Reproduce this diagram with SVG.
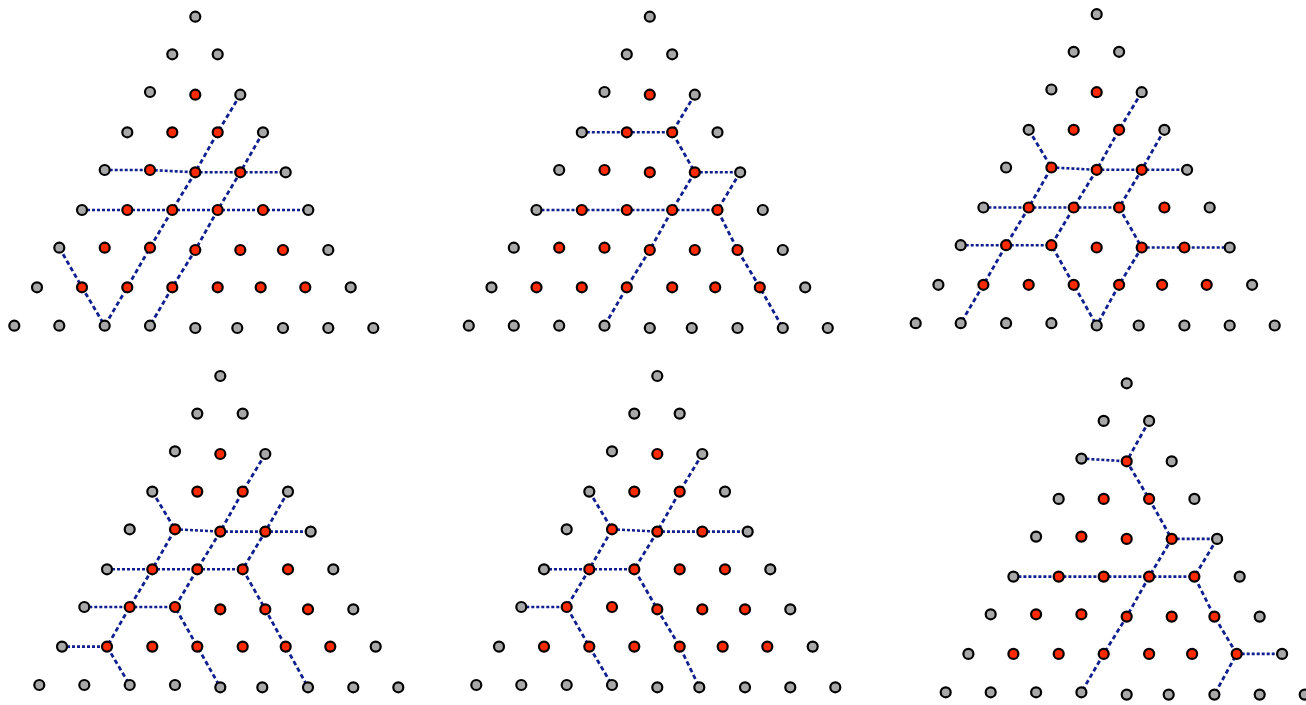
<svg xmlns="http://www.w3.org/2000/svg" width="1306" height="705" viewBox="0 0 1306 705">
<style>
.h{fill:none;stroke:#0f1f8f;stroke-width:2.6;stroke-dasharray:3 2}
.d{fill:none;stroke:#0f1f8f;stroke-width:2.8;stroke-dasharray:4.5 3}
.g{fill:#a8a8a8;stroke:#000;stroke-width:2.2}
.r{fill:#ff2a00;stroke:#000;stroke-width:2.2}
</style>
<rect width="1306" height="705" fill="#fff"/>
<g id="connectors">
<g id="c1">
<polyline class="h" points="104.7,170 150,170 195.3,172.3 240.3,172.3 285.7,172.3"/>
<polyline class="h" points="82,210 308.3,210"/>
<polyline class="d" points="240.3,94.7 217.7,132.3 195.3,172.3 172.3,210 150,247.7 127.3,287.3 104.7,325.7"/>
<polyline class="d" points="263,132.3 240.3,172.3 217.7,210 195.3,250 172.3,287.3 150,325.7"/>
<polyline class="d" points="59.3,247.7 82,287.3 104.7,325.7"/>
</g>
<g id="c2" transform="translate(454.5,0)">
<polyline class="h" points="127.3,132.3 217.7,132.3"/>
<polyline class="d" points="240.3,94.7 217.7,132.3 240.3,172.3 217.7,210 195.3,250 172.3,287.3 150,325.7"/>
<polyline class="h" points="240.3,172.3 285.7,172.3"/>
<polyline class="h" points="82,210 263,210"/>
<polyline class="d" points="285.7,172.3 263,210 283,250 305.3,287.3 328.3,328"/>
</g>
<g id="c3" transform="translate(901.4,-2.5)">
<polyline class="d" points="240.3,94.7 217.7,132.3 195.3,172.3 172.3,210 150,247.7 172.3,287.3 195.3,328"/>
<polyline class="d" points="263,132.3 240.3,172.3 217.7,210 240.3,250 217.7,287.3 195.3,328"/>
<polyline class="d" points="127.3,132.3 150,170 127.3,210 104.7,247.7 82,287.3 59.3,325.7"/>
<polyline class="h" points="150,170 195.3,172.3 240.3,172.3 285.7,172.3"/>
<polyline class="h" points="82,210 217.7,210"/>
<polyline class="h" points="59.3,247.7 150,247.7"/>
<polyline class="h" points="240.3,250 328.3,250"/>
</g>
<g id="c4" transform="translate(25,359.3)">
<polyline class="d" points="240.3,94.7 217.7,132.3 195.3,172.3 172.3,210 150,247.7 172.3,287.3 195.3,328"/>
<polyline class="d" points="263,132.3 240.3,172.3 217.7,210 240.3,250 260.7,287.3 283,328"/>
<polyline class="d" points="127.3,132.3 150,170 127.3,210 104.7,247.7 82,287.3 104.7,325.7"/>
<polyline class="h" points="150,170 195.3,172.3 240.3,172.3 285.7,172.3"/>
<polyline class="h" points="82,210 217.7,210"/>
<polyline class="h" points="59.3,247.7 150,247.7"/>
<polyline class="h" points="37,287.3 82,287.3"/>
</g>
<g id="c5" transform="translate(462,359.3)">
<polyline class="d" points="240.3,94.7 217.7,132.3 195.3,172.3 172.3,210 195.3,250 217.7,287.3 237.3,328"/>
<polyline class="d" points="127.3,132.3 150,170 127.3,210 104.7,247.7 127.3,287.3 150,325.7"/>
<polyline class="h" points="150,170 195.3,172.3 240.3,172.3 285.7,172.3"/>
<polyline class="h" points="82,210 172.3,210"/>
<polyline class="h" points="59.3,247.7 104.7,247.7"/>
</g>
<g id="c6" transform="translate(931.4,366.6)">
<polyline class="d" points="217.7,54.3 195.3,94.7 217.7,132.3 240.3,172.3 217.7,210 195.3,250 172.3,287.3 150,325.7"/>
<polyline class="h" points="150,92 195.3,94.7"/>
<polyline class="h" points="240.3,172.3 285.7,172.3"/>
<polyline class="d" points="285.7,172.3 263,210 283,250 305.3,287.3 283,328"/>
<polyline class="h" points="82,210 263,210"/>
<polyline class="h" points="305.3,287.3 350.7,287.3"/>
</g>
</g>
<g id="panel1">
<g id="a-0-0"><circle class="g" cx="195.3" cy="16.7" r="5"/></g>
<g id="a-1-0"><circle class="g" cx="172.3" cy="54.3" r="5"/></g>
<g id="a-1-1"><circle class="g" cx="217.7" cy="54.3" r="5"/></g>
<g id="a-2-0"><circle class="g" cx="150" cy="92" r="5"/></g>
<g id="a-2-1"><circle class="r" cx="195.3" cy="94.7" r="5"/></g>
<g id="a-2-2"><circle class="g" cx="240.3" cy="94.7" r="5"/></g>
<g id="a-3-0"><circle class="g" cx="127.3" cy="132.3" r="5"/></g>
<g id="a-3-1"><circle class="r" cx="172.3" cy="132.3" r="5"/></g>
<g id="a-3-2"><circle class="r" cx="217.7" cy="132.3" r="5"/></g>
<g id="a-3-3"><circle class="g" cx="263" cy="132.3" r="5"/></g>
<g id="a-4-0"><circle class="g" cx="104.7" cy="170" r="5"/></g>
<g id="a-4-1"><circle class="r" cx="150" cy="170" r="5"/></g>
<g id="a-4-2"><circle class="r" cx="195.3" cy="172.3" r="5"/></g>
<g id="a-4-3"><circle class="r" cx="240.3" cy="172.3" r="5"/></g>
<g id="a-4-4"><circle class="g" cx="285.7" cy="172.3" r="5"/></g>
<g id="a-5-0"><circle class="g" cx="82" cy="210" r="5"/></g>
<g id="a-5-1"><circle class="r" cx="127.3" cy="210" r="5"/></g>
<g id="a-5-2"><circle class="r" cx="172.3" cy="210" r="5"/></g>
<g id="a-5-3"><circle class="r" cx="217.7" cy="210" r="5"/></g>
<g id="a-5-4"><circle class="r" cx="263" cy="210" r="5"/></g>
<g id="a-5-5"><circle class="g" cx="308.3" cy="210" r="5"/></g>
<g id="a-6-0"><circle class="g" cx="59.3" cy="247.7" r="5"/></g>
<g id="a-6-1"><circle class="r" cx="104.7" cy="247.7" r="5"/></g>
<g id="a-6-2"><circle class="r" cx="150" cy="247.7" r="5"/></g>
<g id="a-6-3"><circle class="r" cx="195.3" cy="250" r="5"/></g>
<g id="a-6-4"><circle class="r" cx="240.3" cy="250" r="5"/></g>
<g id="a-6-5"><circle class="r" cx="283" cy="250" r="5"/></g>
<g id="a-6-6"><circle class="g" cx="328.3" cy="250" r="5"/></g>
<g id="a-7-0"><circle class="g" cx="37" cy="287.3" r="5"/></g>
<g id="a-7-1"><circle class="r" cx="82" cy="287.3" r="5"/></g>
<g id="a-7-2"><circle class="r" cx="127.3" cy="287.3" r="5"/></g>
<g id="a-7-3"><circle class="r" cx="172.3" cy="287.3" r="5"/></g>
<g id="a-7-4"><circle class="r" cx="217.7" cy="287.3" r="5"/></g>
<g id="a-7-5"><circle class="r" cx="260.7" cy="287.3" r="5"/></g>
<g id="a-7-6"><circle class="r" cx="305.3" cy="287.3" r="5"/></g>
<g id="a-7-7"><circle class="g" cx="350.7" cy="287.3" r="5"/></g>
<g id="a-8-0"><circle class="g" cx="14.3" cy="325.7" r="5"/></g>
<g id="a-8-1"><circle class="g" cx="59.3" cy="325.7" r="5"/></g>
<g id="a-8-2"><circle class="g" cx="104.7" cy="325.7" r="5"/></g>
<g id="a-8-3"><circle class="g" cx="150" cy="325.7" r="5"/></g>
<g id="a-8-4"><circle class="g" cx="195.3" cy="328" r="5"/></g>
<g id="a-8-5"><circle class="g" cx="237.3" cy="328" r="5"/></g>
<g id="a-8-6"><circle class="g" cx="283" cy="328" r="5"/></g>
<g id="a-8-7"><circle class="g" cx="328.3" cy="328" r="5"/></g>
<g id="a-8-8"><circle class="g" cx="373.3" cy="328" r="5"/></g>
</g>
<g id="panel2" transform="translate(454.5,0)">
<g id="b-0-0"><circle class="g" cx="195.3" cy="16.7" r="5"/></g>
<g id="b-1-0"><circle class="g" cx="172.3" cy="54.3" r="5"/></g>
<g id="b-1-1"><circle class="g" cx="217.7" cy="54.3" r="5"/></g>
<g id="b-2-0"><circle class="g" cx="150" cy="92" r="5"/></g>
<g id="b-2-1"><circle class="r" cx="195.3" cy="94.7" r="5"/></g>
<g id="b-2-2"><circle class="g" cx="240.3" cy="94.7" r="5"/></g>
<g id="b-3-0"><circle class="g" cx="127.3" cy="132.3" r="5"/></g>
<g id="b-3-1"><circle class="r" cx="172.3" cy="132.3" r="5"/></g>
<g id="b-3-2"><circle class="r" cx="217.7" cy="132.3" r="5"/></g>
<g id="b-3-3"><circle class="g" cx="263" cy="132.3" r="5"/></g>
<g id="b-4-0"><circle class="g" cx="104.7" cy="170" r="5"/></g>
<g id="b-4-1"><circle class="r" cx="150" cy="170" r="5"/></g>
<g id="b-4-2"><circle class="r" cx="195.3" cy="172.3" r="5"/></g>
<g id="b-4-3"><circle class="r" cx="240.3" cy="172.3" r="5"/></g>
<g id="b-4-4"><circle class="g" cx="285.7" cy="172.3" r="5"/></g>
<g id="b-5-0"><circle class="g" cx="82" cy="210" r="5"/></g>
<g id="b-5-1"><circle class="r" cx="127.3" cy="210" r="5"/></g>
<g id="b-5-2"><circle class="r" cx="172.3" cy="210" r="5"/></g>
<g id="b-5-3"><circle class="r" cx="217.7" cy="210" r="5"/></g>
<g id="b-5-4"><circle class="r" cx="263" cy="210" r="5"/></g>
<g id="b-5-5"><circle class="g" cx="308.3" cy="210" r="5"/></g>
<g id="b-6-0"><circle class="g" cx="59.3" cy="247.7" r="5"/></g>
<g id="b-6-1"><circle class="r" cx="104.7" cy="247.7" r="5"/></g>
<g id="b-6-2"><circle class="r" cx="150" cy="247.7" r="5"/></g>
<g id="b-6-3"><circle class="r" cx="195.3" cy="250" r="5"/></g>
<g id="b-6-4"><circle class="r" cx="240.3" cy="250" r="5"/></g>
<g id="b-6-5"><circle class="r" cx="283" cy="250" r="5"/></g>
<g id="b-6-6"><circle class="g" cx="328.3" cy="250" r="5"/></g>
<g id="b-7-0"><circle class="g" cx="37" cy="287.3" r="5"/></g>
<g id="b-7-1"><circle class="r" cx="82" cy="287.3" r="5"/></g>
<g id="b-7-2"><circle class="r" cx="127.3" cy="287.3" r="5"/></g>
<g id="b-7-3"><circle class="r" cx="172.3" cy="287.3" r="5"/></g>
<g id="b-7-4"><circle class="r" cx="217.7" cy="287.3" r="5"/></g>
<g id="b-7-5"><circle class="r" cx="260.7" cy="287.3" r="5"/></g>
<g id="b-7-6"><circle class="r" cx="305.3" cy="287.3" r="5"/></g>
<g id="b-7-7"><circle class="g" cx="350.7" cy="287.3" r="5"/></g>
<g id="b-8-0"><circle class="g" cx="14.3" cy="325.7" r="5"/></g>
<g id="b-8-1"><circle class="g" cx="59.3" cy="325.7" r="5"/></g>
<g id="b-8-2"><circle class="g" cx="104.7" cy="325.7" r="5"/></g>
<g id="b-8-3"><circle class="g" cx="150" cy="325.7" r="5"/></g>
<g id="b-8-4"><circle class="g" cx="195.3" cy="328" r="5"/></g>
<g id="b-8-5"><circle class="g" cx="237.3" cy="328" r="5"/></g>
<g id="b-8-6"><circle class="g" cx="283" cy="328" r="5"/></g>
<g id="b-8-7"><circle class="g" cx="328.3" cy="328" r="5"/></g>
<g id="b-8-8"><circle class="g" cx="373.3" cy="328" r="5"/></g>
</g>
<g id="panel3" transform="translate(901.4,-2.5)">
<g id="c-0-0"><circle class="g" cx="195.3" cy="16.7" r="5"/></g>
<g id="c-1-0"><circle class="g" cx="172.3" cy="54.3" r="5"/></g>
<g id="c-1-1"><circle class="g" cx="217.7" cy="54.3" r="5"/></g>
<g id="c-2-0"><circle class="g" cx="150" cy="92" r="5"/></g>
<g id="c-2-1"><circle class="r" cx="195.3" cy="94.7" r="5"/></g>
<g id="c-2-2"><circle class="g" cx="240.3" cy="94.7" r="5"/></g>
<g id="c-3-0"><circle class="g" cx="127.3" cy="132.3" r="5"/></g>
<g id="c-3-1"><circle class="r" cx="172.3" cy="132.3" r="5"/></g>
<g id="c-3-2"><circle class="r" cx="217.7" cy="132.3" r="5"/></g>
<g id="c-3-3"><circle class="g" cx="263" cy="132.3" r="5"/></g>
<g id="c-4-0"><circle class="g" cx="104.7" cy="170" r="5"/></g>
<g id="c-4-1"><circle class="r" cx="150" cy="170" r="5"/></g>
<g id="c-4-2"><circle class="r" cx="195.3" cy="172.3" r="5"/></g>
<g id="c-4-3"><circle class="r" cx="240.3" cy="172.3" r="5"/></g>
<g id="c-4-4"><circle class="g" cx="285.7" cy="172.3" r="5"/></g>
<g id="c-5-0"><circle class="g" cx="82" cy="210" r="5"/></g>
<g id="c-5-1"><circle class="r" cx="127.3" cy="210" r="5"/></g>
<g id="c-5-2"><circle class="r" cx="172.3" cy="210" r="5"/></g>
<g id="c-5-3"><circle class="r" cx="217.7" cy="210" r="5"/></g>
<g id="c-5-4"><circle class="r" cx="263" cy="210" r="5"/></g>
<g id="c-5-5"><circle class="g" cx="308.3" cy="210" r="5"/></g>
<g id="c-6-0"><circle class="g" cx="59.3" cy="247.7" r="5"/></g>
<g id="c-6-1"><circle class="r" cx="104.7" cy="247.7" r="5"/></g>
<g id="c-6-2"><circle class="r" cx="150" cy="247.7" r="5"/></g>
<g id="c-6-3"><circle class="r" cx="195.3" cy="250" r="5"/></g>
<g id="c-6-4"><circle class="r" cx="240.3" cy="250" r="5"/></g>
<g id="c-6-5"><circle class="r" cx="283" cy="250" r="5"/></g>
<g id="c-6-6"><circle class="g" cx="328.3" cy="250" r="5"/></g>
<g id="c-7-0"><circle class="g" cx="37" cy="287.3" r="5"/></g>
<g id="c-7-1"><circle class="r" cx="82" cy="287.3" r="5"/></g>
<g id="c-7-2"><circle class="r" cx="127.3" cy="287.3" r="5"/></g>
<g id="c-7-3"><circle class="r" cx="172.3" cy="287.3" r="5"/></g>
<g id="c-7-4"><circle class="r" cx="217.7" cy="287.3" r="5"/></g>
<g id="c-7-5"><circle class="r" cx="260.7" cy="287.3" r="5"/></g>
<g id="c-7-6"><circle class="r" cx="305.3" cy="287.3" r="5"/></g>
<g id="c-7-7"><circle class="g" cx="350.7" cy="287.3" r="5"/></g>
<g id="c-8-0"><circle class="g" cx="14.3" cy="325.7" r="5"/></g>
<g id="c-8-1"><circle class="g" cx="59.3" cy="325.7" r="5"/></g>
<g id="c-8-2"><circle class="g" cx="104.7" cy="325.7" r="5"/></g>
<g id="c-8-3"><circle class="g" cx="150" cy="325.7" r="5"/></g>
<g id="c-8-4"><circle class="g" cx="195.3" cy="328" r="5"/></g>
<g id="c-8-5"><circle class="g" cx="237.3" cy="328" r="5"/></g>
<g id="c-8-6"><circle class="g" cx="283" cy="328" r="5"/></g>
<g id="c-8-7"><circle class="g" cx="328.3" cy="328" r="5"/></g>
<g id="c-8-8"><circle class="g" cx="373.3" cy="328" r="5"/></g>
</g>
<g id="panel4" transform="translate(25,359.3)">
<g id="d-0-0"><circle class="g" cx="195.3" cy="16.7" r="5"/></g>
<g id="d-1-0"><circle class="g" cx="172.3" cy="54.3" r="5"/></g>
<g id="d-1-1"><circle class="g" cx="217.7" cy="54.3" r="5"/></g>
<g id="d-2-0"><circle class="g" cx="150" cy="92" r="5"/></g>
<g id="d-2-1"><circle class="r" cx="195.3" cy="94.7" r="5"/></g>
<g id="d-2-2"><circle class="g" cx="240.3" cy="94.7" r="5"/></g>
<g id="d-3-0"><circle class="g" cx="127.3" cy="132.3" r="5"/></g>
<g id="d-3-1"><circle class="r" cx="172.3" cy="132.3" r="5"/></g>
<g id="d-3-2"><circle class="r" cx="217.7" cy="132.3" r="5"/></g>
<g id="d-3-3"><circle class="g" cx="263" cy="132.3" r="5"/></g>
<g id="d-4-0"><circle class="g" cx="104.7" cy="170" r="5"/></g>
<g id="d-4-1"><circle class="r" cx="150" cy="170" r="5"/></g>
<g id="d-4-2"><circle class="r" cx="195.3" cy="172.3" r="5"/></g>
<g id="d-4-3"><circle class="r" cx="240.3" cy="172.3" r="5"/></g>
<g id="d-4-4"><circle class="g" cx="285.7" cy="172.3" r="5"/></g>
<g id="d-5-0"><circle class="g" cx="82" cy="210" r="5"/></g>
<g id="d-5-1"><circle class="r" cx="127.3" cy="210" r="5"/></g>
<g id="d-5-2"><circle class="r" cx="172.3" cy="210" r="5"/></g>
<g id="d-5-3"><circle class="r" cx="217.7" cy="210" r="5"/></g>
<g id="d-5-4"><circle class="r" cx="263" cy="210" r="5"/></g>
<g id="d-5-5"><circle class="g" cx="308.3" cy="210" r="5"/></g>
<g id="d-6-0"><circle class="g" cx="59.3" cy="247.7" r="5"/></g>
<g id="d-6-1"><circle class="r" cx="104.7" cy="247.7" r="5"/></g>
<g id="d-6-2"><circle class="r" cx="150" cy="247.7" r="5"/></g>
<g id="d-6-3"><circle class="r" cx="195.3" cy="250" r="5"/></g>
<g id="d-6-4"><circle class="r" cx="240.3" cy="250" r="5"/></g>
<g id="d-6-5"><circle class="r" cx="283" cy="250" r="5"/></g>
<g id="d-6-6"><circle class="g" cx="328.3" cy="250" r="5"/></g>
<g id="d-7-0"><circle class="g" cx="37" cy="287.3" r="5"/></g>
<g id="d-7-1"><circle class="r" cx="82" cy="287.3" r="5"/></g>
<g id="d-7-2"><circle class="r" cx="127.3" cy="287.3" r="5"/></g>
<g id="d-7-3"><circle class="r" cx="172.3" cy="287.3" r="5"/></g>
<g id="d-7-4"><circle class="r" cx="217.7" cy="287.3" r="5"/></g>
<g id="d-7-5"><circle class="r" cx="260.7" cy="287.3" r="5"/></g>
<g id="d-7-6"><circle class="r" cx="305.3" cy="287.3" r="5"/></g>
<g id="d-7-7"><circle class="g" cx="350.7" cy="287.3" r="5"/></g>
<g id="d-8-0"><circle class="g" cx="14.3" cy="325.7" r="5"/></g>
<g id="d-8-1"><circle class="g" cx="59.3" cy="325.7" r="5"/></g>
<g id="d-8-2"><circle class="g" cx="104.7" cy="325.7" r="5"/></g>
<g id="d-8-3"><circle class="g" cx="150" cy="325.7" r="5"/></g>
<g id="d-8-4"><circle class="g" cx="195.3" cy="328" r="5"/></g>
<g id="d-8-5"><circle class="g" cx="237.3" cy="328" r="5"/></g>
<g id="d-8-6"><circle class="g" cx="283" cy="328" r="5"/></g>
<g id="d-8-7"><circle class="g" cx="328.3" cy="328" r="5"/></g>
<g id="d-8-8"><circle class="g" cx="373.3" cy="328" r="5"/></g>
</g>
<g id="panel5" transform="translate(462,359.3)">
<g id="e-0-0"><circle class="g" cx="195.3" cy="16.7" r="5"/></g>
<g id="e-1-0"><circle class="g" cx="172.3" cy="54.3" r="5"/></g>
<g id="e-1-1"><circle class="g" cx="217.7" cy="54.3" r="5"/></g>
<g id="e-2-0"><circle class="g" cx="150" cy="92" r="5"/></g>
<g id="e-2-1"><circle class="r" cx="195.3" cy="94.7" r="5"/></g>
<g id="e-2-2"><circle class="g" cx="240.3" cy="94.7" r="5"/></g>
<g id="e-3-0"><circle class="g" cx="127.3" cy="132.3" r="5"/></g>
<g id="e-3-1"><circle class="r" cx="172.3" cy="132.3" r="5"/></g>
<g id="e-3-2"><circle class="r" cx="217.7" cy="132.3" r="5"/></g>
<g id="e-3-3"><circle class="g" cx="263" cy="132.3" r="5"/></g>
<g id="e-4-0"><circle class="g" cx="104.7" cy="170" r="5"/></g>
<g id="e-4-1"><circle class="r" cx="150" cy="170" r="5"/></g>
<g id="e-4-2"><circle class="r" cx="195.3" cy="172.3" r="5"/></g>
<g id="e-4-3"><circle class="r" cx="240.3" cy="172.3" r="5"/></g>
<g id="e-4-4"><circle class="g" cx="285.7" cy="172.3" r="5"/></g>
<g id="e-5-0"><circle class="g" cx="82" cy="210" r="5"/></g>
<g id="e-5-1"><circle class="r" cx="127.3" cy="210" r="5"/></g>
<g id="e-5-2"><circle class="r" cx="172.3" cy="210" r="5"/></g>
<g id="e-5-3"><circle class="r" cx="217.7" cy="210" r="5"/></g>
<g id="e-5-4"><circle class="r" cx="263" cy="210" r="5"/></g>
<g id="e-5-5"><circle class="g" cx="308.3" cy="210" r="5"/></g>
<g id="e-6-0"><circle class="g" cx="59.3" cy="247.7" r="5"/></g>
<g id="e-6-1"><circle class="r" cx="104.7" cy="247.7" r="5"/></g>
<g id="e-6-2"><circle class="r" cx="150" cy="247.7" r="5"/></g>
<g id="e-6-3"><circle class="r" cx="195.3" cy="250" r="5"/></g>
<g id="e-6-4"><circle class="r" cx="240.3" cy="250" r="5"/></g>
<g id="e-6-5"><circle class="r" cx="283" cy="250" r="5"/></g>
<g id="e-6-6"><circle class="g" cx="328.3" cy="250" r="5"/></g>
<g id="e-7-0"><circle class="g" cx="37" cy="287.3" r="5"/></g>
<g id="e-7-1"><circle class="r" cx="82" cy="287.3" r="5"/></g>
<g id="e-7-2"><circle class="r" cx="127.3" cy="287.3" r="5"/></g>
<g id="e-7-3"><circle class="r" cx="172.3" cy="287.3" r="5"/></g>
<g id="e-7-4"><circle class="r" cx="217.7" cy="287.3" r="5"/></g>
<g id="e-7-5"><circle class="r" cx="260.7" cy="287.3" r="5"/></g>
<g id="e-7-6"><circle class="r" cx="305.3" cy="287.3" r="5"/></g>
<g id="e-7-7"><circle class="g" cx="350.7" cy="287.3" r="5"/></g>
<g id="e-8-0"><circle class="g" cx="14.3" cy="325.7" r="5"/></g>
<g id="e-8-1"><circle class="g" cx="59.3" cy="325.7" r="5"/></g>
<g id="e-8-2"><circle class="g" cx="104.7" cy="325.7" r="5"/></g>
<g id="e-8-3"><circle class="g" cx="150" cy="325.7" r="5"/></g>
<g id="e-8-4"><circle class="g" cx="195.3" cy="328" r="5"/></g>
<g id="e-8-5"><circle class="g" cx="237.3" cy="328" r="5"/></g>
<g id="e-8-6"><circle class="g" cx="283" cy="328" r="5"/></g>
<g id="e-8-7"><circle class="g" cx="328.3" cy="328" r="5"/></g>
<g id="e-8-8"><circle class="g" cx="373.3" cy="328" r="5"/></g>
</g>
<g id="panel6" transform="translate(931.4,366.6)">
<g id="f-0-0"><circle class="g" cx="195.3" cy="16.7" r="5"/></g>
<g id="f-1-0"><circle class="g" cx="172.3" cy="54.3" r="5"/></g>
<g id="f-1-1"><circle class="g" cx="217.7" cy="54.3" r="5"/></g>
<g id="f-2-0"><circle class="g" cx="150" cy="92" r="5"/></g>
<g id="f-2-1"><circle class="r" cx="195.3" cy="94.7" r="5"/></g>
<g id="f-2-2"><circle class="g" cx="240.3" cy="94.7" r="5"/></g>
<g id="f-3-0"><circle class="g" cx="127.3" cy="132.3" r="5"/></g>
<g id="f-3-1"><circle class="r" cx="172.3" cy="132.3" r="5"/></g>
<g id="f-3-2"><circle class="r" cx="217.7" cy="132.3" r="5"/></g>
<g id="f-3-3"><circle class="g" cx="263" cy="132.3" r="5"/></g>
<g id="f-4-0"><circle class="g" cx="104.7" cy="170" r="5"/></g>
<g id="f-4-1"><circle class="r" cx="150" cy="170" r="5"/></g>
<g id="f-4-2"><circle class="r" cx="195.3" cy="172.3" r="5"/></g>
<g id="f-4-3"><circle class="r" cx="240.3" cy="172.3" r="5"/></g>
<g id="f-4-4"><circle class="g" cx="285.7" cy="172.3" r="5"/></g>
<g id="f-5-0"><circle class="g" cx="82" cy="210" r="5"/></g>
<g id="f-5-1"><circle class="r" cx="127.3" cy="210" r="5"/></g>
<g id="f-5-2"><circle class="r" cx="172.3" cy="210" r="5"/></g>
<g id="f-5-3"><circle class="r" cx="217.7" cy="210" r="5"/></g>
<g id="f-5-4"><circle class="r" cx="263" cy="210" r="5"/></g>
<g id="f-5-5"><circle class="g" cx="308.3" cy="210" r="5"/></g>
<g id="f-6-0"><circle class="g" cx="59.3" cy="247.7" r="5"/></g>
<g id="f-6-1"><circle class="r" cx="104.7" cy="247.7" r="5"/></g>
<g id="f-6-2"><circle class="r" cx="150" cy="247.7" r="5"/></g>
<g id="f-6-3"><circle class="r" cx="195.3" cy="250" r="5"/></g>
<g id="f-6-4"><circle class="r" cx="240.3" cy="250" r="5"/></g>
<g id="f-6-5"><circle class="r" cx="283" cy="250" r="5"/></g>
<g id="f-6-6"><circle class="g" cx="328.3" cy="250" r="5"/></g>
<g id="f-7-0"><circle class="g" cx="37" cy="287.3" r="5"/></g>
<g id="f-7-1"><circle class="r" cx="82" cy="287.3" r="5"/></g>
<g id="f-7-2"><circle class="r" cx="127.3" cy="287.3" r="5"/></g>
<g id="f-7-3"><circle class="r" cx="172.3" cy="287.3" r="5"/></g>
<g id="f-7-4"><circle class="r" cx="217.7" cy="287.3" r="5"/></g>
<g id="f-7-5"><circle class="r" cx="260.7" cy="287.3" r="5"/></g>
<g id="f-7-6"><circle class="r" cx="305.3" cy="287.3" r="5"/></g>
<g id="f-7-7"><circle class="g" cx="350.7" cy="287.3" r="5"/></g>
<g id="f-8-0"><circle class="g" cx="14.3" cy="325.7" r="5"/></g>
<g id="f-8-1"><circle class="g" cx="59.3" cy="325.7" r="5"/></g>
<g id="f-8-2"><circle class="g" cx="104.7" cy="325.7" r="5"/></g>
<g id="f-8-3"><circle class="g" cx="150" cy="325.7" r="5"/></g>
<g id="f-8-4"><circle class="g" cx="195.3" cy="328" r="5"/></g>
<g id="f-8-5"><circle class="g" cx="237.3" cy="328" r="5"/></g>
<g id="f-8-6"><circle class="g" cx="283" cy="328" r="5"/></g>
<g id="f-8-7"><circle class="g" cx="328.3" cy="328" r="5"/></g>
<g id="f-8-8"><circle class="g" cx="373.3" cy="328" r="5"/></g>
</g>
</svg>
